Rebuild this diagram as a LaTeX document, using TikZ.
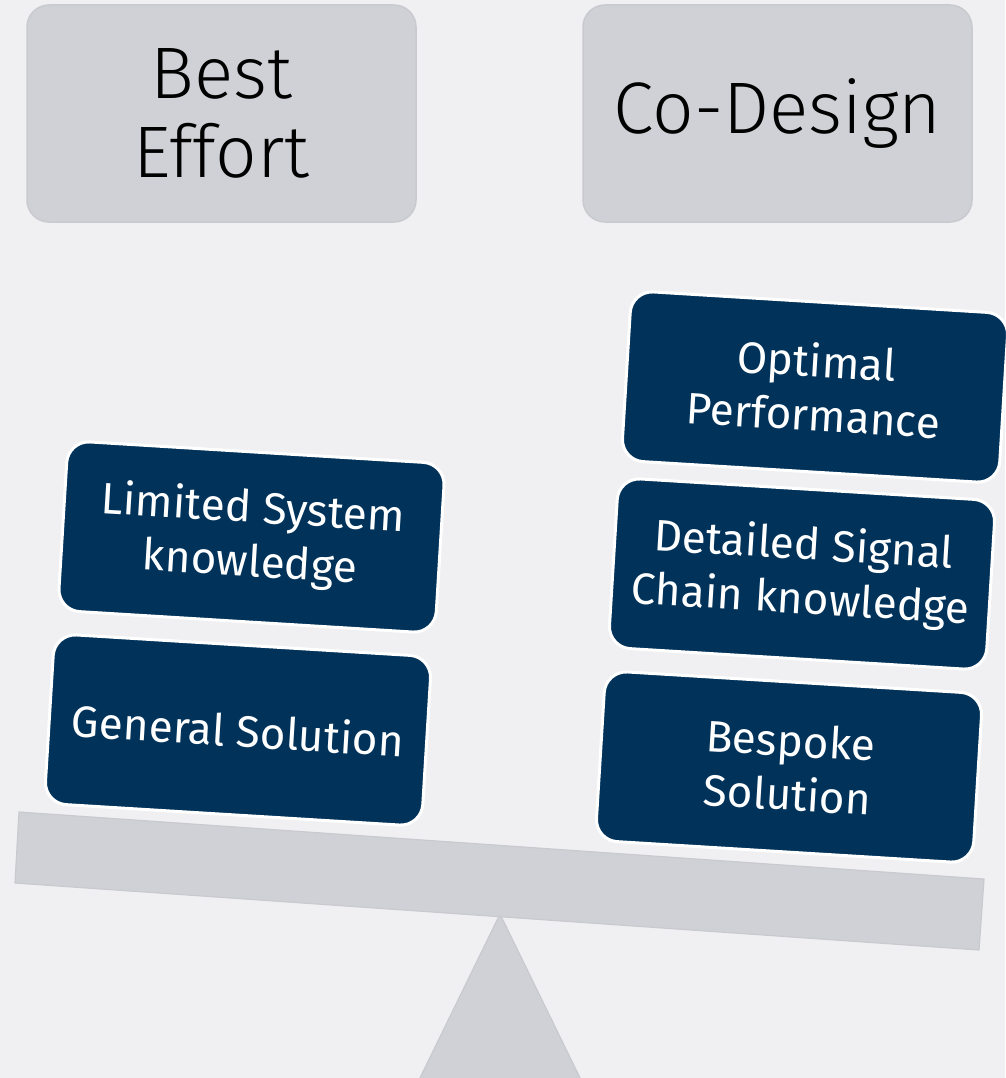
\documentclass[tikz,border=0pt]{standalone}
\usepackage{fontspec}
\setmainfont{Fira Sans}
\newfontfamily\lightfont{Fira Sans}[UprightFont=* Light]
\definecolor{bgc}{HTML}{F0F0F2}
\definecolor{hdr}{HTML}{D0D1D6}
\definecolor{hdrb}{HTML}{C9CACF}
\definecolor{navy}{HTML}{01325A}
\tikzset{
  header/.style={draw=hdrb, fill=hdr, line width=1.5pt, rounded corners=22pt,
    minimum width=389pt, minimum height=217pt, inner sep=0pt,
    align=center, font=\lightfont\fontsize{73}{79}\selectfont, text=black},
  card/.style={draw=white, fill=navy, line width=3pt, rounded corners=22pt,
    minimum width=378pt, minimum height=170pt, inner sep=0pt,
    rotate=-3.5, align=center, text=white,
    font=\fontsize{44}{54}\selectfont},
  plank/.style={draw=hdrb, fill=hdr, line width=1.2pt, line join=round}
}
\begin{document}
\begin{tikzpicture}[x=1pt,y=-1pt]
\fill[bgc] (0,0) rectangle (1005,1078);
\useasboundingbox (0,0) rectangle (1005,1078);
% headers
\node[header] (hL) at (221.5,113.5) {Best\\Effort};
\node[header] (hR) at (777.5,113.5) {Co-Design};
% fulcrum
\coordinate (apex) at (500,914);
\coordinate (bl) at (418,1082);
\coordinate (br) at (582,1082);
\draw[plank] (apex) -- (bl) -- (br) -- cycle;
% beam
\coordinate (b1) at (19,812);
\coordinate (b2) at (984,879);
\coordinate (b3) at (979,950);
\coordinate (b4) at (15,883);
\draw[plank] (b1) -- (b2) -- (b3) -- (b4) -- cycle;
% cards left
\node[card] (lim) at (251.5,537) {Limited System\\knowledge};
\node[card] (gen) at (238,730) {General Solution};
% cards right
\node[card] (opt) at (815,387) {Optimal\\Performance};
\node[card] (det) at (802,574) {Detailed Signal\\Chain knowledge};
\node[card] (bes) at (789,767) {Bespoke\\Solution};
\end{tikzpicture}
\end{document}
